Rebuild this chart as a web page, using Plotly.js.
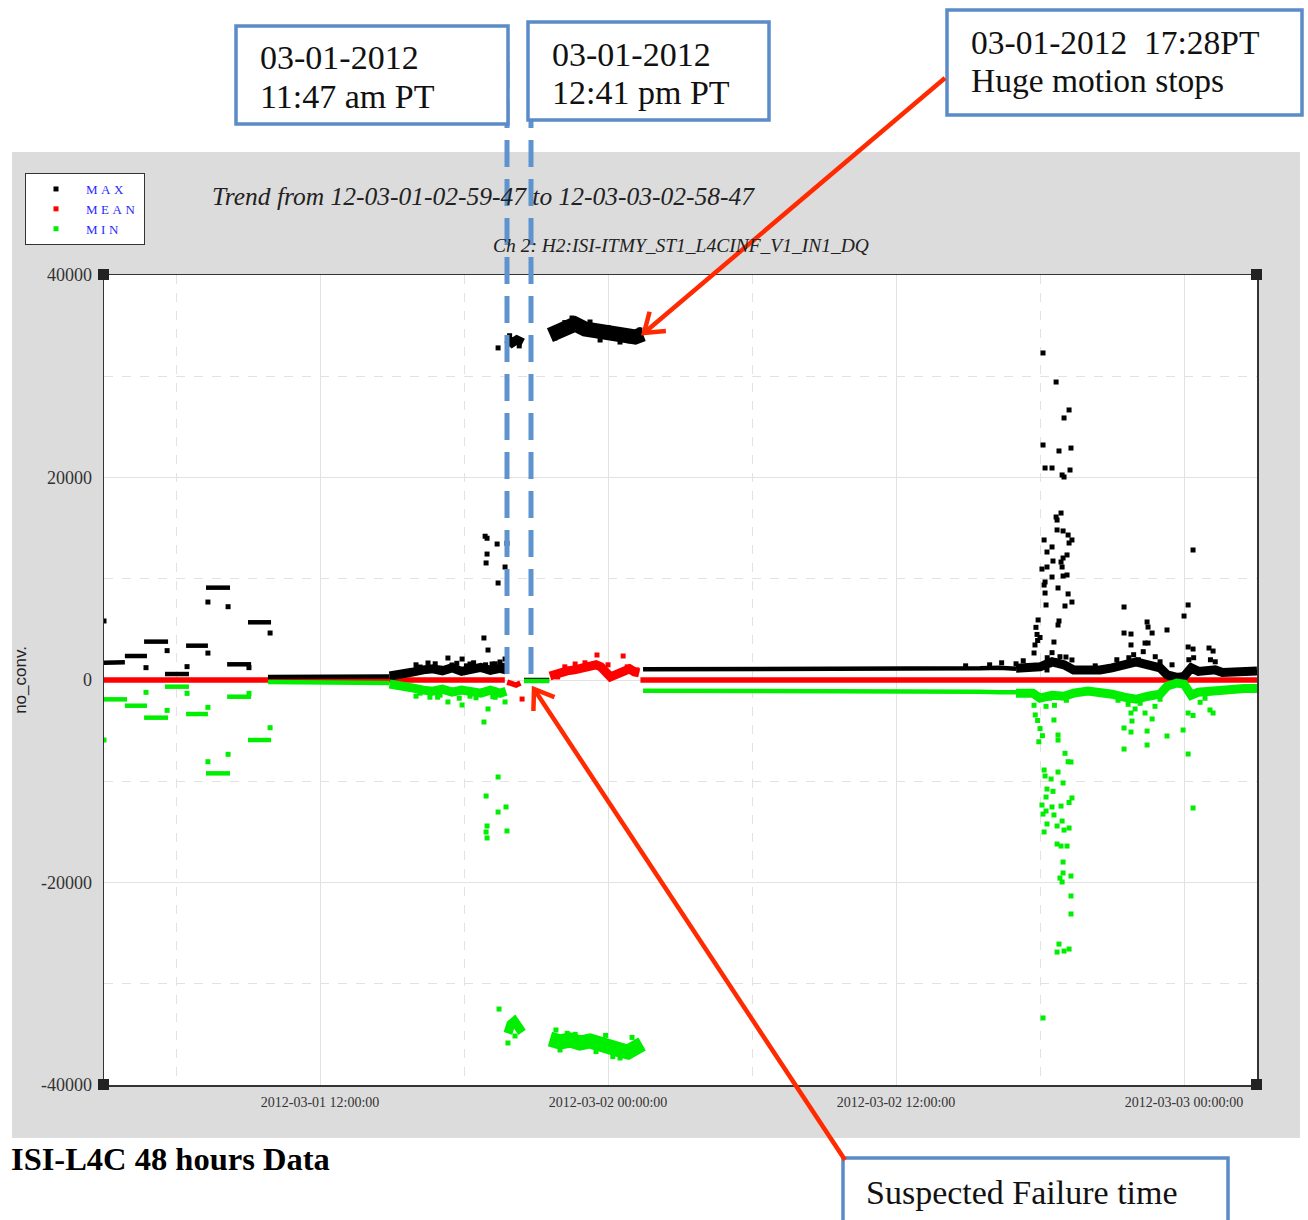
<!DOCTYPE html>
<html><head><meta charset="utf-8">
<script src="https://cdn.plot.ly/plotly-3.0.1.min.js"></script>
<style>html,body{margin:0;padding:0;background:#fff;} #chart{width:1308px;height:1220px;} .legendtext{letter-spacing:3.5px;}</style>
</head><body><div id="chart"></div>
<script>
// x values: hours since 2012-03-01 00:00:00 ; y values: no_conv.
const xTickVals = [12, 24, 36, 48];
const xTickText = ['2012-03-01 12:00:00', '2012-03-02 00:00:00', '2012-03-02 12:00:00', '2012-03-03 00:00:00'];
const yTickVals = [-40000, -20000, 0, 20000, 40000];
const yTickText = ['-40000', '-20000', '0', '20000', '40000'];
const seriesNames = ['MAX', 'MEAN', 'MIN'];

// ---------------- MAX ----------------
// steady runs
const maxRunHours = [3.0, 3.87, null, 3.87, 4.79, null, 4.67, 5.67, null, 5.54, 6.54, null, 6.42, 7.33, null, 7.25, 8.25, null, 8.13, 9.13, null, 9.0, 9.96, null,
  9.83, 12.0, 14.0, 14.9, null, 20.5, 21.55, null, 25.46, 30.0, 35.0, 38.67, 39.5, 40.3, 41.0];
const maxRunValues = [1710, 1750, null, 2370, 2370, null, 3790, 3790, null, 590, 590, null, 3390, 3390, null, 9120, 9120, null, 1550, 1550, null, 5700, 5700, null,
  300, 300, 320, 350, null, 0, 0, null, 1050, 1050, 1050, 1050, 1150, 1200, 1100];
// ragged clusters
const maxClusterHours = [14.9, 15.5, 15.9, 16.3, 16.7, 17.1, 17.5, 17.9, 18.3, 18.7, 19.1, 19.5, 19.75, null,
  19.8, 20.0, 20.2, 20.45, null,
  41.0, 41.7, 42.0, 42.5, 43.0, 43.4, 44.0, 44.5, 45.0, 45.5, 46.0, 46.5, 47.0, 47.3, 47.7, 48.0, 48.3, 48.6, 49.0, 49.3, 49.6, 50.0, 50.5, 51.04];
const maxClusterValues = [400, 550, 800, 1000, 1100, 900, 1200, 850, 1000, 1250, 950, 1150, 1000, null,
  33700, 33300, 33600, 33300, null,
  1150, 1150, 1300, 1800, 1500, 1000, 900, 1000, 1200, 1500, 1800, 1500, 1200, 500, 250, 350, 1200, 850, 950, 1000, 750, 750, 800, 900];
// high plateau after the failure
const maxPlateauHours = [21.58, 22.0, 22.42, 22.63, 23.04, 23.46, 23.88, 24.29, 24.71, 25.13, 25.46];
const maxPlateauValues = [34070, 34570, 34860, 35160, 34670, 34470, 34170, 33970, 33780, 33880, 34170];
// scattered samples
const maxPointHours = [3.0, 4.75, 5.63, 6.46, 7.33, 7.33, 8.17, 9.04, 9.92,
  15.33, 15.75, 16.17, 16.5, 17.0, 17.33, 17.5, 17.92, 18.25, 18.58, 18.83, 18.88, 18.92, 18.96, 18.96, 19.0, 19.17, 19.38, 19.42, 19.5, 19.71, 19.71, 19.79,
  16.0, 16.8, 17.7, 18.1, 18.4, 18.9, 19.3, 19.6,
  19.42, 19.9, 20.3,
  21.79, 22.5, 23.25, 23.67, 24.5, 25.33, 22.2, 24.0, 22.8, 24.9,
  38.9, 39.9, 40.4, 41.0, 41.3, 41.5,
  42.125, 42.67, 43.21, 43.0, 42.125, 42.79, 43.29, 42.21, 42.5, 42.92, 43.0, 43.25, 42.875, 42.67, 42.71, 42.96, 42.71, 43.17, 43.33, 43.21,
  42.17, 42.5, 42.29, 43.125, 42.96, 42.54, 42.875, 42.92, 42.08, 42.29, 43.125, 42.96, 42.5, 42.21, 42.17, 42.75, 42.21, 43.17, 43.33, 42.25,
  43.04, 42.79, 42.75, 41.92, 41.83, 41.875, 41.9, 42.0, 42.58, 41.79, 41.75, 42.3, 42.5, 42.6, 42.83, 43.08, 43.33, 42.29, 42.4, 43.0, 43.2,
  45.5, 45.5, 45.79, 45.79, 46.46, 46.5, 46.67, 46.375, 46.5, 47.29, 48.375, 48.17, 48.0, 48.17, 48.375, 49.04, 49.21,
  45.2, 45.9, 46.1, 46.3, 46.8, 47.0, 45.7, 44.3, 44.9, 48.2, 48.4, 49.1, 49.3, 47.5];
const maxPointValues = [5830, 1220, 2900, 1320, 2660, 7700, 7240, 1220, 4640,
  500, 800, 1280, 1680, 1180, 2170, 1480, 2070, 1580, 1100, 4150, 14200, 11560, 14000, 12440, 2960, 1580, 13430, 9580, 1780, 11160, 2070, 13500,
  1500, 1600, 1650, 1400, 1700, 1500, 1600, 1450,
  32800, 34000, 33000,
  33780, 35750, 35360, 33580, 33380, 34570, 35300, 34800, 35400, 33500,
  1400, 1500, 1700, 1600, 1900, 1400,
  32300, 29430, 26670, 25880, 23210, 22620, 22910, 20940, 20940, 20250, 20050, 20740, 16490, 16100, 15800, 14720, 14820, 14320, 13830, 13530,
  13830, 13140, 12640, 12350, 12050, 11750, 11650, 11160, 10960, 11160, 10370, 10270, 10170, 9680, 9380, 9090, 8590, 8500, 7700, 7410,
  7310, 5830, 5430, 5930, 5200, 4500, 3900, 4200, 3750, 3460, 2670, 2200, 2700, 1900, 2300, 2270, 1980, 990, 1500, 1600, 1200,
  7210, 4640, 4540, 3460, 5730, 5230, 4640, 3650, 3650, 4940, 12840, 7410, 6320, 3260, 3060, 3160, 2860,
  2000, 2500, 2000, 2800, 2300, 1800, 2200, 1400, 1300, 2000, 2200, 2000, 1800, 1500];

// ---------------- MEAN ----------------
const meanRunHours = [3.0, 19.7, null, 19.8, 20.0, 20.17, 20.35, null, 25.35, 51.04];
const meanRunValues = [0, 0, null, -200, -300, -500, -300, null, 0, 0];
const meanPlateauHours = [21.58, 21.8, 22.0, 22.3, 22.6, 22.9, 23.2, 23.5, 23.7, 23.9, 24.1, 24.3, 24.5, 24.7, 24.9, 25.1, 25.3];
const meanPlateauValues = [400, 600, 800, 900, 1000, 1200, 1300, 1500, 1300, 900, 300, 500, 700, 900, 1100, 800, 700];
const meanPointHours = [20.42, 21.9, 22.2, 22.63, 23.04, 23.54, 24.0, 24.63, 24.8, 25.2];
const meanPointValues = [-1880, 300, 1300, 1580, 1700, 2470, 1500, 2370, 1300, 1000];

// ---------------- MIN ----------------
const minRunHours = [3.0, 3.96, null, 3.87, 4.79, null, 4.67, 5.67, null, 5.54, 6.54, null, 6.42, 7.33, null, 7.25, 8.25, null, 8.13, 9.13, null, 9.0, 9.96, null,
  9.83, 12.0, 14.0, 14.9, null, 20.5, 21.55, null, 25.46, 30.0, 35.0, 38.67, 39.5, 40.3, 41.0];
const minRunValues = [-1910, -1910, null, -2540, -2540, null, -3720, -3720, null, -660, -660, null, -3360, -3360, null, -9220, -9220, null, -1650, -1650, null, -5930, -5930, null,
  -200, -200, -250, -300, null, -100, -100, null, -1050, -1050, -1050, -1050, -1150, -1200, -1200];
const minClusterHours = [14.9, 15.5, 15.9, 16.3, 16.7, 17.1, 17.5, 17.9, 18.3, 18.7, 19.1, 19.5, 19.75, null,
  19.83, 19.95, 20.1, 20.25, 20.42, null,
  41.0, 41.7, 42.0, 42.5, 43.0, 43.4, 44.0, 44.5, 45.0, 45.5, 46.0, 46.5, 47.0, 47.3, 47.7, 48.0, 48.3, 48.6, 49.0, 49.3, 49.6, 50.0, 50.5, 51.04];
const minClusterValues = [-400, -550, -800, -1000, -1100, -900, -1200, -1000, -1100, -1300, -1000, -1300, -1100, null,
  -34900, -34000, -33700, -34400, -34800, null,
  -1300, -1300, -1800, -1500, -1600, -1300, -1100, -1200, -1400, -1700, -1900, -1600, -1400, -600, -300, -400, -1500, -1200, -1100, -1100, -950, -850, -850, -850];
const minPlateauHours = [21.58, 22.0, 22.42, 22.83, 23.25, 23.67, 24.08, 24.5, 24.83, 25.13, 25.42];
const minPlateauValues = [-35460, -35750, -35560, -35850, -35650, -36050, -36250, -36540, -36740, -36150, -35950];
const minPointHours = [3.0, 4.75, 5.63, 6.46, 7.33, 7.33, 8.17, 9.04, 9.92,
  15.75, 16.17, 16.58, 17.0, 17.33, 17.6, 17.92, 18.25, 18.83, 19.0, 19.3, 19.71, 16.0, 16.9, 17.8, 18.5, 19.2,
  19.42, 18.92, 19.75, 19.42, 18.96, 18.92, 19.79, 18.96, 19.46, 19.83, 20.125,
  21.83, 22.0, 22.63, 23.5, 24.5, 24.71, 25.0, 23.9, 22.3, 24.2,
  41.75, 41.8, 41.9, 42.0, 42.1, 41.95, 42.58, 42.75, 42.75, 43.04, 43.17, 43.29, 42.17, 42.21, 42.75, 42.46, 42.96, 42.29, 42.54, 42.25,
  43.33, 43.21, 42.08, 42.5, 42.875, 42.25, 42.125, 42.58, 42.92, 42.29, 42.71, 43.21, 43.0, 42.17, 42.71, 42.875, 43.125, 42.96, 42.96, 42.83,
  42.92, 43.29, 43.29, 43.29, 42.79, 42.71, 43.0, 43.21, 42.125, 42.4, 42.6, 43.1, 43.25, 42.25,
  45.5, 45.5, 45.79, 45.83, 45.79, 45.96, 46.46, 46.46, 46.375, 46.67, 47.29, 47.96, 48.17, 48.375, 48.17, 48.375, 49.08, 49.21,
  45.25, 46.17, 46.79, 47.0, 45.67, 48.67, 48.875];
const minPointValues = [-5930, -1220, -3000, -1320, -2700, -8070, -7340, -1320, -4710,
  -800, -1300, -1700, -1500, -2170, -1200, -2470, -1600, -4150, -2860, -1700, -2170, -1600, -1700, -1800, -1750, -1650,
  -9580, -11460, -12540, -13040, -14420, -15010, -14910, -15600, -32500, -35850, -35160,
  -34570, -36540, -35000, -36700, -37330, -37000, -35300, -35100, -34900, -37200,
  -2500, -3450, -4000, -4800, -5500, -6100, -3950, -5430, -5930, -7240, -8070, -8100, -8890, -9480, -9090, -9780, -10170, -10770, -11000, -11560,
  -11650, -12100, -12350, -12540, -12450, -12940, -13240, -13330, -13930, -14220, -14420, -14620, -14820, -15010, -16200, -16400, -16400, -17980, -19060, -19560,
  -19950, -19360, -21330, -23110, -26080, -26870, -26770, -26570, -33380, -1800, -2500, -2000, -1500, -2600,
  -4740, -6820, -5140, -4050, -3260, -2860, -5040, -6420, -3260, -3850, -5530, -4940, -7310, -12640, -3260, -3500, -2960, -3260,
  -2000, -2300, -2600, -1900, -2400, -2200, -1800];

// ---------- layout helpers (pixel -> paper) ----------
const W = 1308, H = 1220, L = 104, R = 1257, T = 275, B = 1085;
const fx = p => (p - L) / (R - L);
const fy = p => (B - p) / (B - T);
const colors = {MAX: '#000000', MEAN: '#ff0000', MIN: '#00ee00'};
const serif = 'Liberation Serif';

function band(x, y, c, w, name) {
  return {x: x, y: y, type: 'scatter', mode: 'lines', line: {color: c, width: w}, connectgaps: false,
    showlegend: false, hoverinfo: 'skip', legendgroup: name};
}
function pts(x, y, c, name, rank) {
  return {x: x, y: y, type: 'scatter', mode: 'markers', name: name, legendgroup: name, legendrank: rank,
    marker: {symbol: 'square', size: 5, color: c, line: {width: 0}}};
}

const traces = [
  band(meanRunHours, meanRunValues, colors.MEAN, 5.5, 'MEAN'),
  band(meanPlateauHours, meanPlateauValues, colors.MEAN, 9, 'MEAN'),
  pts(meanPointHours, meanPointValues, colors.MEAN, seriesNames[1], 2),
  band(maxRunHours, maxRunValues, colors.MAX, 4.5, 'MAX'),
  band(maxClusterHours, maxClusterValues, colors.MAX, 9, 'MAX'),
  band(maxPlateauHours, maxPlateauValues, colors.MAX, 15, 'MAX'),
  pts(maxPointHours, maxPointValues, colors.MAX, seriesNames[0], 1),
  band(minRunHours, minRunValues, colors.MIN, 4.5, 'MIN'),
  band(minClusterHours, minClusterValues, colors.MIN, 9, 'MIN'),
  band(minPlateauHours, minPlateauValues, colors.MIN, 15, 'MIN'),
  pts(minPointHours, minPointValues, colors.MIN, seriesNames[2], 3)
];

const shapes = [];
function rectPx(x0, y0, x1, y1, fill, lineColor, lineWidth, layer) {
  shapes.push({type: 'rect', xref: 'paper', yref: 'paper', x0: fx(x0), x1: fx(x1), y0: fy(y1), y1: fy(y0),
    fillcolor: fill, line: {color: lineColor || fill, width: lineWidth || 0}, layer: layer || 'above'});
}
function linePx(x0, y0, x1, y1, color, width, dash) {
  shapes.push({type: 'line', xref: 'paper', yref: 'paper', x0: fx(x0), x1: fx(x1), y0: fy(y0), y1: fy(y1),
    line: {color: color, width: width, dash: dash || 'solid'}, layer: 'above'});
}
// grey frame around plot area
rectPx(12, 152, 1300, T, '#dcdcdc', null, 0, 'below');
rectPx(12, B, 1300, 1138, '#dcdcdc', null, 0, 'below');
rectPx(12, T, L, B, '#dcdcdc', null, 0, 'below');
rectPx(R, T, 1300, B, '#dcdcdc', null, 0, 'below');
// corner marks
[[98, 269], [1251, 269], [98, 1079], [1251, 1079]].forEach(c => rectPx(c[0], c[1], c[0] + 11, c[1] + 11, '#222222'));
// blue dashed markers
linePx(507, 62, 507, 684, '#5e93cf', 5, '27px,12px');
linePx(531, 62, 531, 684, '#5e93cf', 5, '27px,12px');
// text boxes
const boxBlue = '#5b8bc8';
rectPx(236, 26, 508, 124, '#ffffff', boxBlue, 3.5);
rectPx(528, 22, 769, 120, '#ffffff', boxBlue, 3.5);
rectPx(947, 10, 1302, 115, '#ffffff', boxBlue, 3.5);
rectPx(843, 1158, 1228, 1224, '#ffffff', boxBlue, 3.5);
// red arrows
const red = '#ff2a00';
function arrowPx(tx, ty, hx, hy) {
  linePx(tx, ty, hx, hy, red, 4.5);
  const dx = tx - hx, dy = ty - hy, len = Math.hypot(dx, dy), bx = dx / len, by = dy / len;
  const a = 35 * Math.PI / 180, s = 22;
  const p1 = [hx + s * (bx * Math.cos(a) - by * Math.sin(a)), hy + s * (bx * Math.sin(a) + by * Math.cos(a))];
  const p2 = [hx + s * (bx * Math.cos(a) + by * Math.sin(a)), hy + s * (-bx * Math.sin(a) + by * Math.cos(a))];
  shapes.push({type: 'path', xref: 'paper', yref: 'paper', layer: 'above',
    path: `M${fx(p1[0])},${fy(p1[1])} L${fx(hx)},${fy(hy)} L${fx(p2[0])},${fy(p2[1])}`,
    line: {color: red, width: 4.5}});
}
arrowPx(945, 78, 644, 333);
arrowPx(845, 1160, 534, 689);

const annotations = [];
function textPx(x, y, text, size, opts) {
  annotations.push(Object.assign({xref: 'paper', yref: 'paper', x: fx(x), y: fy(y), text: text, showarrow: false,
    xanchor: 'left', yanchor: 'middle', align: 'left', font: {family: serif, size: size, color: '#111111'}}, opts || {}));
}
textPx(258, 58, '03-01-2012', 34);
textPx(258, 96, '11:47 am PT', 34);
textPx(550, 55, '03-01-2012', 34);
textPx(550, 92, '12:41 pm PT', 34);
textPx(969, 42, '03-01-2012&nbsp; 17:28PT', 33.5);
textPx(969, 80, 'Huge motion stops', 33.5);
textPx(864, 1192, 'Suspected Failure time', 34);
textPx(9, 1159, 'ISI-L4C 48 hours Data', 32, {font: {family: serif, size: 32.5, color: '#000', weight: 700}});
textPx(681, 245, 'Ch 2: H2:ISI-ITMY_ST1_L4CINF_V1_IN1_DQ', 19.5,
  {xanchor: 'center', font: {family: serif, size: 19.5, color: '#222', style: 'italic'}});

const layout = {
  width: W, height: H,
  margin: {l: L, r: W - R, t: T, b: H - B, pad: 0},
  paper_bgcolor: '#ffffff', plot_bgcolor: '#ffffff',
  title: {text: 'Trend from 12-03-01-02-59-47 to 12-03-03-02-58-47', xref: 'container', yref: 'container',
    x: 483 / W, xanchor: 'center', y: 1 - 196 / H, yanchor: 'middle',
    font: {family: serif, size: 25.5, color: '#222', style: 'italic'}},
  xaxis: {range: [3, 51.04], tickmode: 'array', tickvals: xTickVals, ticktext: xTickText,
    showgrid: true, gridcolor: '#e2e2e2', gridwidth: 1, zeroline: false,
    minor: {tickmode: 'array', tickvals: [6, 18, 30, 42], showgrid: true, gridcolor: '#e2e2e2', griddash: 'dash', gridwidth: 1},
    showline: true, linecolor: '#333', linewidth: 1.5, mirror: true, ticks: '', ticklabelstandoff: 4,
    tickfont: {family: serif, size: 14, color: '#333'}, fixedrange: true},
  yaxis: {range: [-40000, 40000], tickmode: 'array', tickvals: yTickVals, ticktext: yTickText,
    showgrid: true, gridcolor: '#e2e2e2', gridwidth: 1, zeroline: false,
    minor: {tickmode: 'array', tickvals: [-30000, -10000, 10000, 30000], showgrid: true, gridcolor: '#e2e2e2', griddash: 'dash', gridwidth: 1},
    showline: true, linecolor: '#333', linewidth: 1.5, mirror: true, ticks: '', ticklabelstandoff: 7,
    tickfont: {family: serif, size: 18, color: '#333'},
    title: {text: 'no_conv.', standoff: 10, font: {family: 'Liberation Sans', size: 17, color: '#222'}}, fixedrange: true},
  showlegend: true,
  legend: {x: fx(25), y: fy(173), xanchor: 'left', yanchor: 'top', bgcolor: '#ffffff', bordercolor: '#333', borderwidth: 1,
    font: {family: serif, size: 13, color: '#2a2aff'}, itemwidth: 50, tracegroupgap: 0, traceorder: 'normal',
    entrywidth: 111, entrywidthmode: 'pixels'},
  shapes: shapes, annotations: annotations
};

Plotly.newPlot('chart', traces, layout, {displayModeBar: false, staticPlot: true});
</script></body></html>
